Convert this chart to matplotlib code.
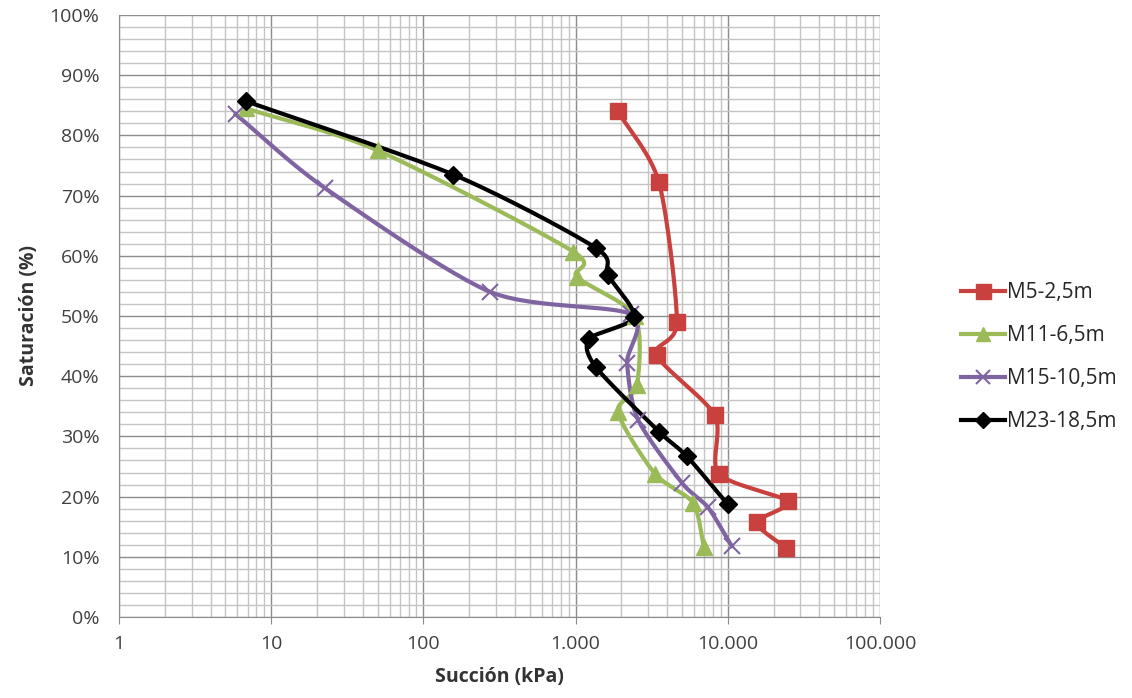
import numpy as np
import matplotlib.pyplot as plt
from matplotlib.ticker import FixedLocator, FuncFormatter, NullFormatter, MultipleLocator

plt.rcParams['font.family'] = ['Open Sans', 'DejaVu Sans']

# Succión (kPa) vs saturación (%) por muestra
m5_x = [1900, 3530, 4630, 3420, 8220, 8730, 24700, 15500, 24000]
m5_y = [84.0, 72.2, 49.0, 43.5, 33.5, 23.8, 19.2, 15.7, 11.5]

m11_x = [6.8, 50, 964, 1020, 2450, 2530, 1900, 3320, 5890, 6960]
m11_y = [84.5, 77.5, 60.7, 56.5, 50.0, 38.5, 34.0, 23.8, 19.0, 11.7]

m15_x = [5.85, 22.4, 275, 2300, 2180, 2570, 4990, 7410, 10600]
m15_y = [83.5, 71.3, 54.0, 50.3, 42.2, 32.8, 22.3, 18.2, 11.8]

m23_x = [6.8, 157, 1360, 1630, 2420, 1230, 1360, 3530, 5380, 10000]
m23_y = [85.7, 73.5, 61.3, 56.8, 49.8, 46.2, 41.5, 30.8, 26.7, 18.7]

labels = ['M5-2,5m', 'M11-6,5m', 'M15-10,5m', 'M23-18,5m']
colors = ['#C8413E', '#9BBB59', '#8064A2', '#000000']
markers = ['s', '^', 'x', 'D']
msizes = [12, 11, 11, 9]


def smooth(xs, ys, n=30):
    # Catmull-Rom curve through the points in (log x, y) space
    px = np.log10(np.asarray(xs, float))
    py = np.asarray(ys, float)
    px = np.concatenate([[2 * px[0] - px[1]], px, [2 * px[-1] - px[-2]]])
    py = np.concatenate([[2 * py[0] - py[1]], py, [2 * py[-1] - py[-2]]])
    out_x, out_y = [], []
    t = np.linspace(0, 1, n)
    for i in range(1, len(px) - 2):
        for p, out in ((px, out_x), (py, out_y)):
            p0, p1, p2, p3 = p[i - 1], p[i], p[i + 1], p[i + 2]
            m1 = (p2 - p0) / 2 * 0.8
            m2 = (p3 - p1) / 2 * 0.8
            h00 = 2 * t**3 - 3 * t**2 + 1
            h10 = t**3 - 2 * t**2 + t
            h01 = -2 * t**3 + 3 * t**2
            h11 = t**3 - t**2
            out.extend(h00 * p1 + h10 * m1 + h01 * p2 + h11 * m2)
    return 10 ** np.array(out_x), np.array(out_y)


fig = plt.figure(figsize=(11.32, 6.98), dpi=100)
ax = fig.add_axes([119 / 1132, 1 - 617 / 698, (880 - 119) / 1132, (617 - 15) / 698])

series = [(m5_x, m5_y), (m11_x, m11_y), (m15_x, m15_y), (m23_x, m23_y)]
for (xs, ys), lab, c, mk, ms in zip(series, labels, colors, markers, msizes):
    sx, sy = smooth(xs, ys)
    ax.plot(sx, sy, color=c, lw=3, zorder=3)
    mew = 1.5 if mk == 'x' else 1
    ax.plot(xs, ys, linestyle='none', marker=mk, markersize=ms, color=c,
            markeredgewidth=mew, zorder=4)
    ax.plot([], [], color=c, lw=3, marker=mk, markersize=ms * 0.9,
            markeredgewidth=mew, label=lab)

ax.set_xscale('log')
ax.set_xlim(1, 100000)
ax.set_ylim(0, 100)

ax.xaxis.set_major_locator(FixedLocator([1, 10, 100, 1000, 10000, 100000]))
ax.xaxis.set_major_formatter(FuncFormatter(lambda v, p: f'{int(round(v)):,}'.replace(',', '.')))
ax.xaxis.set_minor_locator(FixedLocator([m * 10**e for e in range(5) for m in range(2, 10)]))
ax.xaxis.set_minor_formatter(NullFormatter())
ax.yaxis.set_major_locator(MultipleLocator(10))
ax.yaxis.set_minor_locator(MultipleLocator(2))
ax.yaxis.set_major_formatter(FuncFormatter(lambda v, p: f'{int(round(v))}%'))

ax.grid(which='major', color='#8c8c8c', lw=1)
ax.grid(which='minor', color='#c4c4c4', lw=1)
ax.set_axisbelow(True)

for side in ['top', 'right']:
    ax.spines[side].set_visible(False)
for side in ['left', 'bottom']:
    ax.spines[side].set_color('#8c8c8c')
ax.tick_params(which='major', length=5, color='#8c8c8c', labelsize=14, labelcolor='#404040', pad=6)
ax.tick_params(which='minor', length=0)
ax.tick_params(axis='y', length=0, pad=14)
ax.tick_params(axis='x', pad=8)

ax.set_xlabel('Succión (kPa)', fontsize=14, fontweight='bold', color='#333333', labelpad=10)
ax.set_ylabel('Saturación (%)', fontsize=14, fontweight='bold', color='#333333', labelpad=8)

fig.legend(loc='center left', bbox_to_anchor=(942 / 1132, 1 - 357 / 698), frameon=False,
           fontsize=15, labelcolor='#262626', handlelength=2.1, handletextpad=0.1,
           labelspacing=1.05)

fig.savefig('out.png', dpi=100, facecolor='white')
